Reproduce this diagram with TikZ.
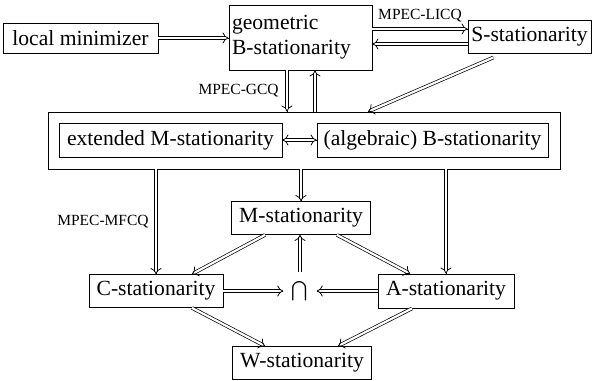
\documentclass[tikz,border=0pt]{standalone}
\usepackage{graphicx}
\usepackage{fontspec}
\setmainfont{Liberation Serif}
\usetikzlibrary{arrows.meta,calc}
\newcommand{\mainsz}{\fontsize{21.6}{25}\selectfont}
\newcommand{\labsz}{\fontsize{15.5}{18}\selectfont}
% double implication line from #2 to #3, optional path tail #1 (labels)
\newcommand{\impl}[3][]{%
  \draw[dbl] (#2) -- (#3) #1;
  \draw[tipst] ($(#3)!1pt!(#2)$) -- (#3);}
\begin{document}
\begin{tikzpicture}[x=1pt,y=-1pt,
  box/.style={draw, line width=0.85pt, inner sep=0pt, minimum height=33pt, font=\mainsz, align=center},
  dbl/.style={double, double distance=2.2pt, line width=0.7pt, shorten >=2.2pt},
  tipst/.style={line width=0.75pt, -{Computer Modern Rightarrow[length=6pt, width=11pt]}},
  lab/.style={font=\labsz, inner sep=0pt}]
\useasboundingbox (0,0) rectangle (593,380);

\node[box, minimum width=155pt, minimum height=30pt] (lm) at (80.5,38) {local minimizer};
\node[box, minimum width=143pt, minimum height=65pt, text width=137pt, inner xsep=3pt, align=left] (geo) at (300.5,37.5) {geometric\\B-stationarity};
\node[box, minimum width=123pt] (S) at (529.5,36.5) {S-stationarity};

\node[box, minimum width=512pt, minimum height=57pt] (outer) at (304,140.5) {};
\node[box, minimum width=223pt, minimum height=34pt] (ext) at (170.5,140) {extended M-stationarity};
\node[box, minimum width=231pt, minimum height=34pt] (alg) at (432.5,140) {(algebraic) B-stationarity};

\node[box, minimum width=139pt] (M) at (301,218) {M-stationarity};
\node[box, minimum width=134pt] (C) at (156,291) {C-stationarity};
\node[box, minimum width=136pt, minimum height=34pt] (A) at (446,291) {A-stationarity};
\node[box, minimum width=139pt] (W) at (302,363) {W-stationarity};
\node[inner sep=0pt, minimum width=33pt, minimum height=38pt] (cap) at (300,291) {\scalebox{1.95}{$\bigcap$}};

% connectors
\impl{lm.east}{lm.east -| geo.west}
\impl[{node[lab, midway, above=7pt] (licq) {MPEC-LICQ}}]{[yshift=8.5pt]geo.east}{[yshift=8.5pt]geo.east -| S.west}
\impl{[yshift=-6.5pt]geo.east -| S.west}{[yshift=-6.5pt]geo.east}

\impl[{node[lab, midway, left=8pt] (gcq) {MPEC-GCQ}}]{[xshift=-13.5pt]geo.south}{[xshift=-13.5pt]geo.south |- outer.north}
\impl{[xshift=14.5pt]geo.south |- outer.north}{[xshift=14.5pt]geo.south}
\impl{[xshift=-36pt,yshift=-4pt]S.south}{[xshift=64pt]outer.north}

\draw[dbl, shorten <=2.2pt] (ext.east) -- (alg.west);
\draw[tipst] ($(alg.west)!1pt!(ext.east)$) -- (alg.west);
\draw[tipst] ($(ext.east)!1pt!(alg.west)$) -- (ext.east);

\impl[{node[lab, midway, left=7pt] (mfcq) {MPEC-MFCQ}}]{C.north |- outer.south}{C.north}
\impl{M.north |- outer.south}{M.north}
\impl{A.north |- outer.south}{A.north}

\impl{[xshift=-36pt]M.south}{[xshift=36pt]C.north}
\impl{[xshift=36pt]M.south}{[xshift=-36pt]A.north}
\impl{cap.north}{cap.north |- M.south}
\impl{C.east}{C.east -| cap.west}
\impl{A.west}{A.west -| cap.east}
\impl{[xshift=36pt]C.south}{[xshift=-37pt]W.north}
\impl{[xshift=-34pt]A.south}{[xshift=36pt]W.north}
\end{tikzpicture}
\end{document}
